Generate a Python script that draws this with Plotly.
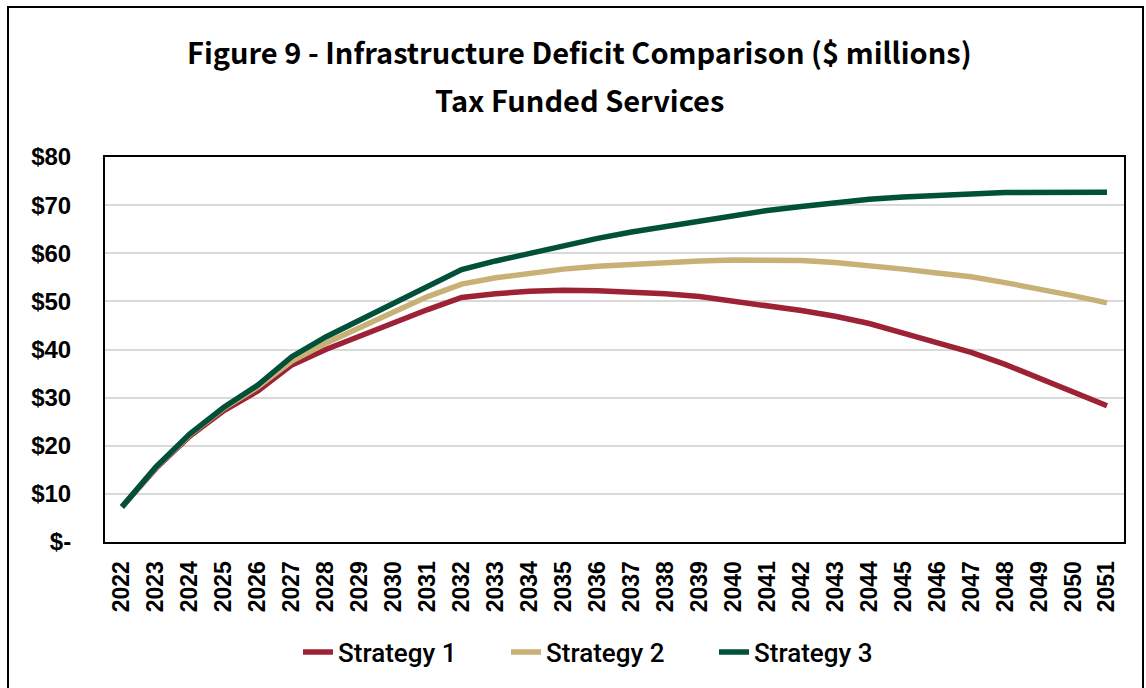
import plotly.graph_objects as go

# Infrastructure deficit by year, $ millions
years = [str(y) for y in range(2022, 2052)]

strategy_1 = [7.3, 15.3, 22.0, 27.3, 31.4, 36.8, 40.0, 42.8, 45.6, 48.3,
              50.8, 51.6, 52.1, 52.3, 52.2, 51.9, 51.6, 51.0, 50.1, 49.1,
              48.1, 46.9, 45.4, 43.4, 41.5, 39.4, 36.9, 34.1, 31.4, 28.3]
strategy_2 = [7.3, 15.5, 22.3, 27.8, 32.2, 37.6, 41.3, 44.7, 47.8, 51.0,
              53.6, 54.9, 55.9, 56.7, 57.3, 57.7, 58.1, 58.4, 58.6, 58.6,
              58.5, 58.1, 57.5, 56.7, 55.9, 55.1, 53.9, 52.6, 51.2, 49.7]
strategy_3 = [7.3, 15.6, 22.5, 28.0, 32.6, 38.5, 42.6, 46.1, 49.7, 53.0,
              56.6, 58.4, 60.0, 61.6, 63.1, 64.4, 65.5, 66.7, 67.8, 68.9,
              69.7, 70.5, 71.2, 71.7, 72.1, 72.3, 72.6, 72.7, 72.7, 72.7]

series_names = ["Strategy 1", "Strategy 2", "Strategy 3"]
series_colors = ["#9E2236", "#C8B176", "#00503A"]

y_tick_values = [0, 10, 20, 30, 40, 50, 60, 70, 80]
y_tick_labels = ["$-", "$10", "$20", "$30", "$40", "$50", "$60", "$70", "$80"]

title_line_1 = "Figure 9 - Infrastructure Deficit Comparison ($ millions)"
title_line_2 = "Tax Funded Services"

# page geometry (pixels)
W, H = 1146, 688
L, R, T, B = 105, 22, 157, 146
plot_w = W - L - R
plot_h = H - T - B


def px_x(p):
    return (p - L) / plot_w


def px_y(p):
    return (H - B - p) / plot_h


fig = go.Figure()
for name, vals, col in zip(series_names, [strategy_1, strategy_2, strategy_3], series_colors):
    fig.add_trace(go.Scatter(
        x=years, y=vals, name=name, mode="lines",
        line=dict(color=col, width=5.5),
    ))

title_font = dict(family="Noto Sans CJK JP, Noto Sans, sans-serif", size=29,
                  color="#000000", weight="bold")

fig.update_layout(
    width=W, height=H, autosize=False,
    margin=dict(l=L, r=R, t=T, b=B),
    paper_bgcolor="white", plot_bgcolor="white",
    showlegend=True,
    legend=dict(
        orientation="h", x=px_x(298), y=px_y(652), xanchor="left", yanchor="middle",
        font=dict(family="Roboto, Liberation Sans, sans-serif", size=26,
                  color="#000000", weight=500),
        entrywidth=163, entrywidthmode="pixels",
        bgcolor="rgba(0,0,0,0)",
    ),
    xaxis=dict(
        type="category", categoryorder="array", categoryarray=years,
        range=[-0.5, len(years) - 0.5],
        tickangle=-90, showgrid=False,
        showline=True, linecolor="#000000", linewidth=2, mirror=True,
        ticks="", ticklabelstandoff=8,
        tickfont=dict(family="Liberation Sans, Arial, sans-serif", size=23,
                      color="#000000", weight="bold"),
    ),
    yaxis=dict(
        range=[0, 80], tickvals=y_tick_values, ticktext=y_tick_labels,
        showgrid=True, gridcolor="#D9D9D9", gridwidth=2,
        zeroline=False,
        showline=True, linecolor="#000000", linewidth=2, mirror=True,
        ticks="", ticklabelstandoff=27,
        tickfont=dict(family="Liberation Sans, Arial, sans-serif", size=24,
                      color="#000000", weight="bold"),
    ),
    annotations=[
        dict(text=title_line_1, xref="paper", yref="paper", x=px_x(579), y=px_y(51),
             xanchor="center", yanchor="middle", showarrow=False, font=title_font),
        dict(text=title_line_2, xref="paper", yref="paper", x=px_x(579), y=px_y(99),
             xanchor="center", yanchor="middle", showarrow=False, font=title_font),
    ],
    shapes=[
        # outer chart frame
        dict(type="rect", xref="paper", yref="paper",
             x0=px_x(8), x1=px_x(1143), y0=px_y(700), y1=px_y(7),
             line=dict(color="#000000", width=2), fillcolor="rgba(0,0,0,0)",
             layer="above"),
    ],
)

fig.write_html("out.html")
